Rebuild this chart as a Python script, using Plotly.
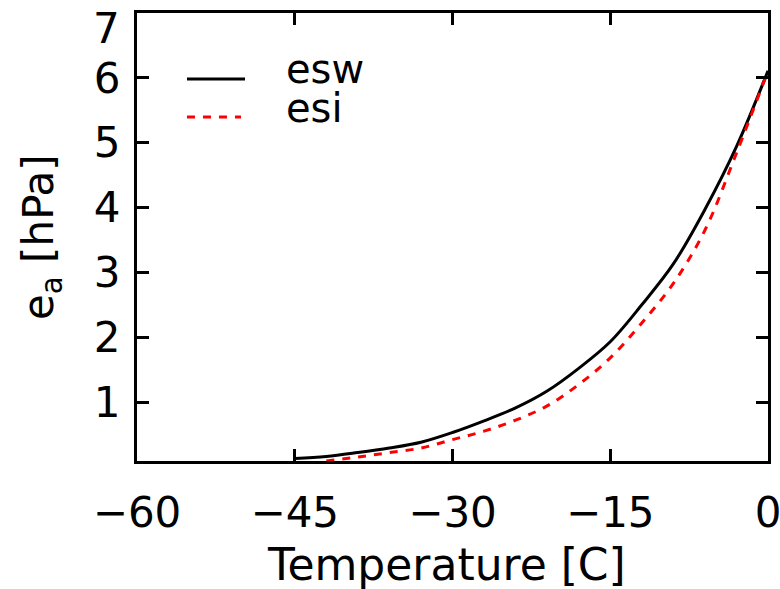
import plotly.graph_objects as go

# Saturation vapour pressure over water (esw) and ice (esi)
temp_w = [-45, -42, -39, -36, -33, -30, -27, -24, -21, -18, -15, -12, -9, -6, -3, 0]
esw = [0.13, 0.16, 0.22, 0.29, 0.38, 0.53, 0.71, 0.91, 1.17, 1.52, 1.93, 2.50, 3.13, 3.97, 4.94, 6.11]

temp_i = [-42, -39, -36, -33, -30, -27, -24, -21, -18, -15, -12, -9, -6, -3, 0]
esi = [0.09, 0.15, 0.22, 0.29, 0.42, 0.55, 0.72, 0.94, 1.27, 1.68, 2.22, 2.83, 3.65, 4.84, 6.11]

x_ticks = [-60, -45, -30, -15, 0]
y_ticks = [1, 2, 3, 4, 5, 6, 7]
y_tick_text = ["1", "2", "3", "4", "5", "6", ""]   # "7" is drawn below the top edge, as in the original
y_top_label = "7"

FONT = "DejaVu Sans"
FS = 42

fig = go.Figure()
fig.add_trace(go.Scatter(x=temp_w, y=esw, mode="lines", name="esw",
                         line=dict(color="black", width=3, shape="spline", smoothing=1.0)))
fig.add_trace(go.Scatter(x=temp_i, y=esi, mode="lines", name="esi",
                         line=dict(color="#ff0000", width=3, dash="8px,8px", shape="spline", smoothing=1.0)))

axis_common = dict(showline=True, linecolor="black", linewidth=3, mirror="allticks",
                   ticks="inside", ticklen=12, tickwidth=3, tickcolor="black",
                   showgrid=False, zeroline=False, automargin=False,
                   ticklabeloverflow="allow",
                   tickfont=dict(family=FONT, size=FS, color="black"))

fig.update_xaxes(range=[-60, 0], tickvals=x_ticks, ticklabelstandoff=13, **axis_common)
fig.update_yaxes(range=[0.09, 7.002], tickvals=y_ticks, ticktext=y_tick_text,
                 ticklabelstandoff=5, **axis_common)

# top y tick label, shifted down inside the canvas
fig.add_annotation(text=y_top_label, xref="paper", yref="y", x=0, y=y_ticks[-1],
                   xanchor="right", yanchor="middle", xshift=-15, yshift=-15, showarrow=False,
                   font=dict(family=FONT, size=FS, color="black"))

# axis titles
fig.add_annotation(text="Temperature [C]", xref="paper", yref="paper",
                   x=0.49, y=-0.231, xanchor="center", yanchor="middle", showarrow=False,
                   font=dict(family=FONT, size=44, color="black"))
fig.add_annotation(text="e<sub>a</sub> [hPa]", textangle=-90, xref="paper", yref="paper",
                   x=-0.152, y=0.5, xanchor="center", yanchor="middle", showarrow=False,
                   font=dict(family=FONT, size=FS, color="black"))

# legend key (drawn manually to match the original layout)
fig.add_shape(type="line", xref="paper", yref="paper", x0=0.0792, x1=0.1712, y0=0.8527, y1=0.8527,
              line=dict(color="black", width=3))
fig.add_shape(type="line", xref="paper", yref="paper", x0=0.0792, x1=0.1648, y0=0.7679, y1=0.7679,
              line=dict(color="#ff0000", width=3, dash="8px,8px"))
fig.add_annotation(text="esw", xref="paper", yref="paper", x=0.2323, y=0.875, xanchor="left",
                   yanchor="middle", showarrow=False, font=dict(family=FONT, size=40, color="black"))
fig.add_annotation(text="esi", xref="paper", yref="paper", x=0.2323, y=0.788, xanchor="left",
                   yanchor="middle", showarrow=False, font=dict(family=FONT, size=40, color="black"))

fig.update_layout(width=780, height=589, showlegend=False,
                  margin=dict(l=137, r=12, t=13, b=128),
                  paper_bgcolor="white", plot_bgcolor="white",
                  font=dict(family=FONT, size=FS, color="black"))

fig.write_html("out.html", config={"displayModeBar": False},
               post_script="document.body.style.margin='0px';document.body.style.overflow='hidden';")
